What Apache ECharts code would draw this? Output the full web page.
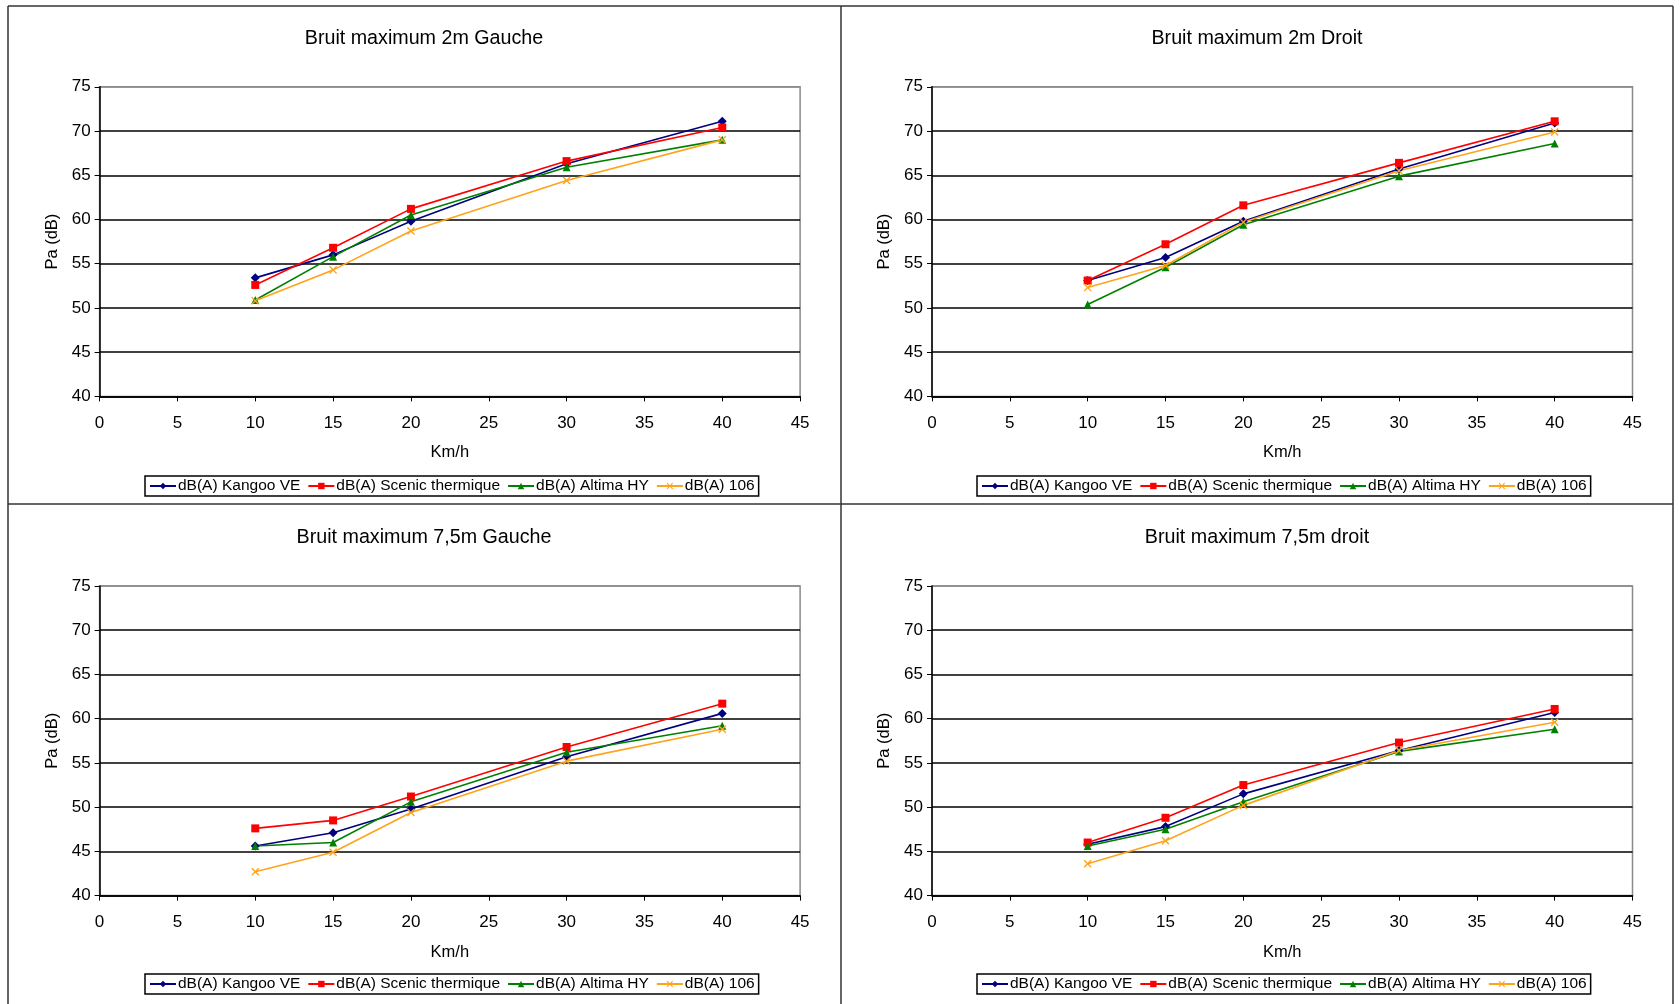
<!DOCTYPE html>
<html>
<head>
<meta charset="utf-8">
<script src="https://cdn.jsdelivr.net/npm/echarts@6/dist/echarts.min.js"></script>
<style>
html,body{margin:0;padding:0;background:#fff;}
#c{width:1680px;height:1004px;}
</style>
</head>
<body>
<div id="c"></div>
<script>
// ---- Data ----
const speeds = [10, 15, 20, 30, 40];
const seriesNames = ['dB(A) Kangoo VE', 'dB(A) Scenic thermique', 'dB(A) Altima HY', 'dB(A) 106'];
const chartTitles = ['Bruit maximum 2m Gauche', 'Bruit maximum 2m Droit', 'Bruit maximum 7,5m Gauche', 'Bruit maximum 7,5m droit'];
const xTicks = [0, 5, 10, 15, 20, 25, 30, 35, 40, 45];
const yTicks = [40, 45, 50, 55, 60, 65, 70, 75];

const g2_kangoo = [53.4, 56.0, 59.8, 66.3, 71.1];
const g2_scenic = [52.6, 56.8, 61.2, 66.6, 70.4];
const g2_altima = [50.9, 55.8, 60.5, 65.9, 69.0];
const g2_106    = [50.8, 54.3, 58.7, 64.4, 69.0];

const d2_kangoo = [53.1, 55.7, 59.8, 65.7, 70.9];
const d2_scenic = [53.1, 57.2, 61.6, 66.4, 71.1];
const d2_altima = [50.4, 54.6, 59.4, 64.9, 68.6];
const d2_106    = [52.3, 54.8, 59.7, 65.5, 69.9];

const g75_kangoo = [45.6, 47.1, 49.8, 55.7, 60.6];
const g75_scenic = [47.6, 48.5, 51.2, 56.8, 61.7];
const g75_altima = [45.6, 46.0, 50.6, 56.2, 59.2];
const g75_106    = [42.7, 44.9, 49.4, 55.2, 58.8];

const d75_kangoo = [45.8, 47.8, 51.5, 56.4, 60.7];
const d75_scenic = [46.0, 48.8, 52.5, 57.3, 61.1];
const d75_altima = [45.6, 47.5, 50.6, 56.3, 58.8];
const d75_106    = [43.6, 46.2, 50.2, 56.4, 59.6];

const panelData = [
  [g2_kangoo, g2_scenic, g2_altima, g2_106],
  [d2_kangoo, d2_scenic, d2_altima, d2_106],
  [g75_kangoo, g75_scenic, g75_altima, g75_106],
  [d75_kangoo, d75_scenic, d75_altima, d75_106]
];

// ---- Styles ----
const FONT = 'Liberation Sans, Arial, sans-serif';
const colors = ['#000080', '#FF0000', '#008000', '#FFA31A'];
const xSym = 'path://M0,1.2L1.2,0L5,3.8L8.8,0L10,1.2L6.2,5L10,8.8L8.8,10L5,6.2L1.2,10L0,8.8L3.8,5Z';
const symbols = ['diamond', 'rect', 'triangle', xSym];
const symSizes = [9, 8, 8, 8];

const panels = [
  {left: 99.6, top: 86.8, cx: 424, titleTop: 24, legendLeft: 145, legendTop: 476},
  {left: 932, top: 86.8, cx: 1257, titleTop: 24, legendLeft: 977, legendTop: 476},
  {left: 99.6, top: 586, cx: 424, titleTop: 523, legendLeft: 145, legendTop: 974},
  {left: 932, top: 586, cx: 1257, titleTop: 523, legendLeft: 977, legendTop: 974}
];
const PW = 700.5, PH = 309.6;

const option = {
  animation: false,
  backgroundColor: '#fff',
  textStyle: {fontFamily: FONT},
  title: [], grid: [], xAxis: [], yAxis: [], legend: [], series: [],
  graphic: []
};

panels.forEach((p, i) => {
  option.title.push({
    text: chartTitles[i], left: p.cx - 5, top: p.titleTop, textAlign: 'center',
    textStyle: {fontFamily: FONT, fontSize: 19.7, fontWeight: 'normal', color: '#000'}
  });
  option.grid.push({
    left: p.left, top: p.top, width: PW, height: PH,
    show: true, borderColor: '#8a8a8a', borderWidth: 1.5, backgroundColor: '#fff'
  });
  option.xAxis.push({
    type: 'value', gridIndex: i, min: xTicks[0], max: xTicks[xTicks.length - 1], interval: 5,
    name: 'Km/h', nameLocation: 'middle', nameGap: 48,
    nameTextStyle: {fontFamily: FONT, fontSize: 16.5, color: '#000'},
    axisLine: {show: true, onZero: false, lineStyle: {color: '#000', width: 1.5}},
    axisTick: {show: true, length: 5, lineStyle: {color: '#000', width: 1}},
    axisLabel: {fontFamily: FONT, fontSize: 17, color: '#000', margin: 18},
    splitLine: {show: false}
  });
  option.yAxis.push({
    type: 'value', gridIndex: i, min: yTicks[0], max: yTicks[yTicks.length - 1], interval: 5,
    name: 'Pa (dB)', nameLocation: 'middle', nameGap: 39, nameRotate: 90,
    nameTextStyle: {fontFamily: FONT, fontSize: 16.5, color: '#000'},
    axisLine: {show: true, onZero: false, lineStyle: {color: '#000', width: 1.5}},
    axisTick: {show: true, length: 5, lineStyle: {color: '#000', width: 1}},
    axisLabel: {fontFamily: FONT, fontSize: 17, color: '#000', margin: 9},
    splitLine: {show: true, lineStyle: {color: ['#000','#000','#000','#000','#000','#000','#000','#8a8a8a'], width: 1.5}}
  });
  option.legend.push({
    left: p.legendLeft, top: p.legendTop,
    data: seriesNames.map((n) => ({name: n})),
    orient: 'horizontal',
    itemWidth: 26, itemHeight: 8, itemGap: 7,
    padding: [2, 4, 2, 4],
    borderColor: '#000', borderWidth: 1.5, backgroundColor: '#fff',
    textStyle: {fontFamily: FONT, fontSize: 15.5, color: '#000', padding: [0, 0, 0, -3]},
    selectedMode: false
  });
  panelData[i].forEach((vals, k) => {
    option.series.push({
      name: seriesNames[k], type: 'line',
      xAxisIndex: i, yAxisIndex: i,
      data: speeds.map((s, j) => [s, vals[j]]),
      symbol: symbols[k], symbolSize: symSizes[k],
      lineStyle: {color: colors[k], width: 1.6},
      itemStyle: {color: colors[k]},
      color: colors[k]
    });
  });
});

// panel frame lines
const frameColor = '#333';
const frameLines = [
  [8, 6, 1673, 6],
  [8, 6, 8, 1004],
  [1673, 6, 1673, 1004],
  [841, 6, 841, 1004],
  [8, 504, 1673, 504]
];
frameLines.forEach(l => {
  option.graphic.push({
    type: 'line', shape: {x1: l[0], y1: l[1], x2: l[2], y2: l[3]},
    style: {stroke: frameColor, lineWidth: 1.5}, silent: true, z: -1
  });
});

const chart = echarts.init(document.getElementById('c'), null, {renderer: 'canvas'});
chart.setOption(option);
</script>
</body>
</html>
